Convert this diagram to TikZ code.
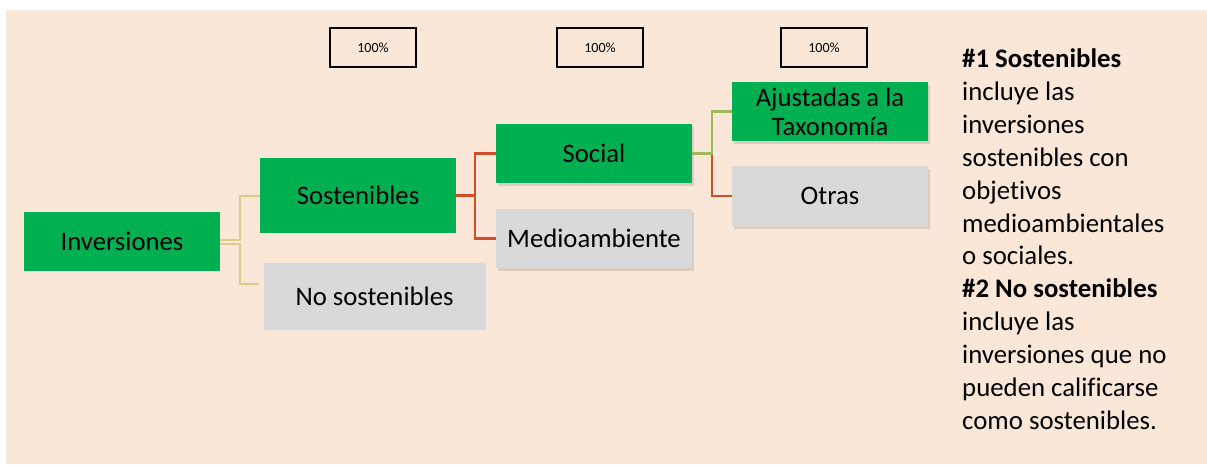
\documentclass[tikz,border=0pt]{standalone}
\usepackage{fontspec}
\setmainfont{Carlito}[Ligatures=NoCommon]
\usetikzlibrary{shadows}
\definecolor{fondo}{HTML}{FAE7D7}
\definecolor{verde}{HTML}{00B050}
\definecolor{gris}{HTML}{D9D9D9}
\definecolor{rojo}{HTML}{D24E27}
\definecolor{amarillo}{HTML}{DCCB8C}
\definecolor{oliva}{HTML}{9BBB59}

\begin{document}
\begin{tikzpicture}[x=1pt,y=-1pt,
    caja/.style={inner sep=0pt,font=\fontsize{26.7}{29.3}\selectfont,align=center},
    si/.style={caja,fill=verde},
    nosi/.style={caja,fill=gris},
    sombra/.style={drop shadow={shadow xshift=2pt,shadow yshift=-3pt,opacity=0.25}},
    pct/.style={draw=black,line width=1.1pt,minimum width=86pt,minimum height=39pt,inner sep=0pt,font=\fontsize{14}{15}\selectfont},
    linkam/.style={amarillo,line width=2pt},
    linkro/.style={rojo,line width=2.2pt},
    linkol/.style={oliva,line width=2.2pt}]
    \useasboundingbox (0,0) rectangle (1207,464);
    \fill[fondo] (6,10) rectangle (1207,464);
    % porcentajes
    \node[pct] (p1) at (373,47.5) {100\%};
    \node[pct] (p2) at (600,47.5) {100\%};
    \node[pct] (p3) at (824,47.5) {100\%};
    % cajas
    \node[si,minimum width=196pt,minimum height=59pt] (inv) at (122,241.5) {Inversiones};
    \node[si,minimum width=196pt,minimum height=75pt] (sost) at (358,195.5) {Sostenibles};
    \node[nosi,minimum width=222pt,minimum height=67pt] (nosost) at (374.5,296.5) {No sostenibles};
    \node[si,sombra,minimum width=196pt,minimum height=59pt] (social) at (594,153.5) {Social};
    \node[nosi,sombra,minimum width=196pt,minimum height=59pt] (medio) at (594,238.5) {Medioambiente};
    \node[si,sombra,minimum width=196pt,minimum height=59pt] (ajust) at (830,111.5) {Ajustadas a la\\Taxonomía};
    \node[nosi,sombra,minimum width=196pt,minimum height=60pt] (otras) at (830,196) {Otras};
    % conectores
    \draw[linkam] ([yshift=2pt]inv.east) -- ++(20,0) |- (sost.west);
    \draw[linkam] ([yshift=-2pt]inv.east) -- ++(20,0) |- ([xshift=-4pt,yshift=12.5pt]nosost.west);
    \draw[linkro] (sost.east) -- ++(19,0) |- (social.west);
    \draw[linkro] (sost.east) -- ++(19,0) |- (medio.west);
    \draw[linkol] (social.east) -- ++(20,0) |- (ajust.west);
    \draw[linkro] ([xshift=20pt,yshift=-1pt]social.east) |- (otras.west);
    % texto
    \node[anchor=north west,inner sep=0pt,align=left,font=\fontsize{26.8}{32.9}\selectfont] (nota) at (962,48.5)
      {\textbf{\#1 Sostenibles}\\incluye las\\inversiones\\sostenibles con\\objetivos\\medioambientales\\o sociales.\\\textbf{\#2 No sostenibles}\\incluye las\\inversiones que no\\pueden calificarse\\como sostenibles.};
\end{tikzpicture}
\end{document}
